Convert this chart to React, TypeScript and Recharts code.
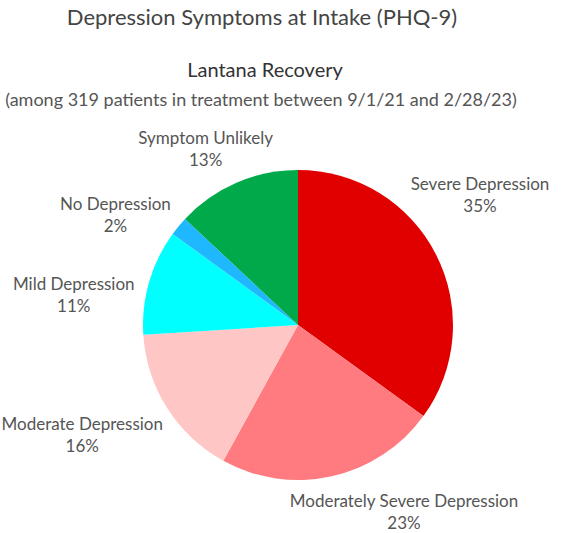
import { PieChart, Pie, Cell } from "recharts";

const categories = [
  "Severe Depression",
  "Moderately Severe Depression",
  "Moderate Depression",
  "Mild Depression",
  "No Depression",
  "Symptom Unlikely",
];
const shares = [35, 23, 16, 11, 2, 13];
const COLORS = ["#e00000", "#ff7b7f", "#ffc6c6", "#00ffff", "#1fb8ff", "#00aa4a"];

// Tableau nudges each label off the plain radial position
const LABEL_NUDGE: [number, number][] = [
  [-14, -30],
  [58, -28],
  [-30, -8],
  [-13, 31],
  [-13, 30],
  [-5, 26],
];

const data = categories.map((name, i) => ({ name, value: shares[i] }));

const FONT = "Lato, 'Open Sans', sans-serif";
const TEXT = "#555555";

const RADIAN = Math.PI / 180;

function renderLabel(props: any) {
  const { cx, cy, midAngle, index, name, value } = props;
  const r = 220;
  const x = cx + r * Math.cos(-midAngle * RADIAN) + LABEL_NUDGE[index][0];
  const y = cy + r * Math.sin(-midAngle * RADIAN) + LABEL_NUDGE[index][1];
  return (
    <text x={x} y={y} textAnchor="middle" fill={TEXT} fontSize={17} fontFamily={FONT}>
      <tspan x={x} dy={-5}>{name}</tspan>
      <tspan x={x} dy={22}>{`${value}%`}</tspan>
    </text>
  );
}

export default function App() {
  return (
    <div style={{ position: "absolute", left: 0, top: 0, width: 584, height: 533, background: "#fff" }}>
      <div style={{ position: "absolute", left: 0, top: 0 }}>
        <PieChart width={584} height={533}>
          <Pie
            data={data}
            dataKey="value"
            nameKey="name"
            cx={293}
            cy={320}
            outerRadius={155}
            startAngle={90}
            endAngle={-270}
            stroke="none"
            labelLine={false}
            label={renderLabel}
            isAnimationActive={false}
          >
            {data.map((_d, i) => (
              <Cell key={`cell-${i}`} fill={COLORS[i]} />
            ))}
          </Pie>
        </PieChart>
      </div>
      <svg
        width={584}
        height={533}
        style={{ position: "absolute", left: 0, top: 0, pointerEvents: "none" }}
      >
        <text x={262} y={25} textAnchor="middle" fontFamily={FONT} fontSize={22} fill="#444">
          Depression Symptoms at Intake (PHQ-9)
        </text>
        <text x={265} y={77} textAnchor="middle" fontFamily={FONT} fontSize={20} fill="#333">
          Lantana Recovery
        </text>
        <text x={261} y={106} textAnchor="middle" fontFamily={FONT} fontSize={18} fill="#555">
          (among 319 patients in treatment between 9/1/21 and 2/28/23)
        </text>
      </svg>
    </div>
  );
}
